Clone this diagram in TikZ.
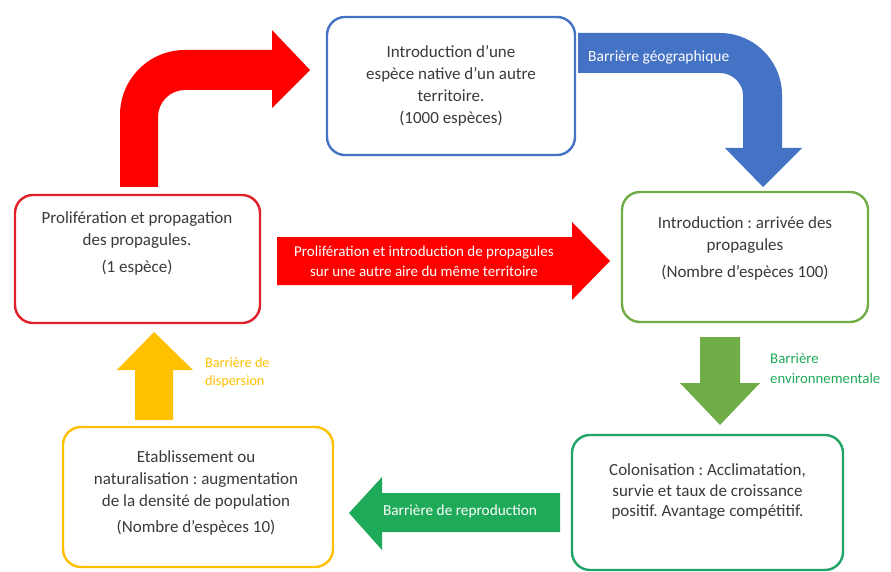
\documentclass[tikz,border=0pt]{standalone}
\usepackage{fontspec}
\setmainfont{Carlito}
\frenchspacing
\definecolor{cblue}{HTML}{4472C4}
\definecolor{cred}{HTML}{FF0000}
\definecolor{credbox}{HTML}{E0202A}
\definecolor{colive}{HTML}{70AD47}
\definecolor{cgreen}{HTML}{1EAA58}
\definecolor{cgreenbox}{HTML}{21A366}
\definecolor{cyellow}{HTML}{FFC000}
\definecolor{ctext}{HTML}{3A3A3A}
\begin{document}
\begin{tikzpicture}[x=1pt,y=-1pt,
  box/.style={draw, line width=2.4pt, rounded corners=18pt, fill=white, inner sep=0pt},
  boxtext/.style={text=ctext, align=center, font=\fontsize{17}{22}\selectfont, inner sep=0pt},
  lbl/.style={font=\fontsize{15}{18}\selectfont, inner sep=0pt},
  blockarrow/.style={draw=none}]
\useasboundingbox (0,0) rectangle (891,572);
\fill[white] (0,0) rectangle (891,572);

% boxes
\node[box, draw=cblue, minimum width=248pt, minimum height=138pt] (intro) at (451,86) {};
\node[box, draw=colive, minimum width=246pt, minimum height=130pt] (arr) at (745,257) {};
\node[box, draw=cgreenbox, minimum width=271pt, minimum height=135pt] (colo) at (707.5,502.5) {};
\node[box, draw=cyellow, minimum width=270pt, minimum height=140pt] (etab) at (198,497) {};
\node[box, draw=credbox, minimum width=245pt, minimum height=128pt] (prol) at (137.5,259) {};

% box texts
\node[boxtext] (tintro) at (intro.center) {Introduction d'une\\espèce native d'un autre\\territoire.\\(1000 espèces)};
\node[boxtext] (tarr) at (745,248) {Introduction : arrivée des\\propagules\\[5pt](Nombre d'espèces 100)};
\node[boxtext, font=\fontsize{17}{20.5}\selectfont] (tcolo) at (707.5,492) {Colonisation : Acclimatation,\\survie et taux de croissance\\positif. Avantage compétitif.};
\node[boxtext] (tetab) at (196,493) {Etablissement ou\\naturalisation : augmentation\\de la densité de population\\[4pt](Nombre d'espèces 10)};
\node[boxtext] (tprol) at (137,243) {Prolifération et propagation\\des propagules.\\[5pt](1 espèce)};

% red bent arrow: prol -> intro
\fill[cred] (120,187) -- (120,115) .. controls (120,79) and (149,50) .. (185,50)
  -- (272,50) -- (272,30) -- (310,70) -- (272,108) -- (272,90) -- (185,90)
  .. controls (170,90) and (158,102) .. (158,117) -- (158,187) -- cycle;

% blue bent arrow: intro -> arr
\fill[cblue] (578,33) -- (720,33) .. controls (754,33) and (782,61) .. (782,95)
  -- (782,148) -- (802,148) -- (763,187) -- (725,148) -- (743,148) -- (743,95)
  .. controls (743,83) and (732,73) .. (720,73) -- (578,73) -- cycle;
\node[lbl, text=white, anchor=west, font=\fontsize{15.5}{18}\selectfont] (lgeo) at (588,57) {Barrière géographique};

% red straight arrow: prol -> arr
\fill[cred] (277,237) -- (572,237) -- (572,222) -- (610,261) -- (572,300) -- (572,285) -- (277,285) -- cycle;
\node[lbl, text=white, align=center, font=\fontsize{15}{20}\selectfont] (lprol) at (424,261) {Prolifération et introduction de propagules\\sur une autre aire du même territoire};

% olive down arrow: arr -> colo
\fill[colive] (700,337) -- (740,337) -- (740,383) -- (760,383) -- (720,425) -- (680,383) -- (700,383) -- cycle;
\node[lbl, text=cgreen, anchor=west, align=left, font=\fontsize{14.8}{20}\selectfont] (lenv) at (770,368) {Barrière\\environnementale};

% green left arrow: colo -> etab
\fill[cgreen] (560,493) -- (382,493) -- (382,477) -- (349,513) -- (382,550) -- (382,532) -- (560,532) -- cycle;
\node[lbl, text=white, font=\fontsize{15.3}{18}\selectfont] (lrep) at (460,511) {Barrière de reproduction};

% yellow up arrow: etab -> prol
\fill[cyellow] (135,420) -- (135,370) -- (117,370) -- (154,332) -- (193,370) -- (173,370) -- (173,420) -- cycle;
\node[lbl, text=cyellow, anchor=west, align=left, font=\fontsize{14.2}{18}\selectfont] (ldisp) at (205,373) {Barrière de\\dispersion};
\end{tikzpicture}
\end{document}
